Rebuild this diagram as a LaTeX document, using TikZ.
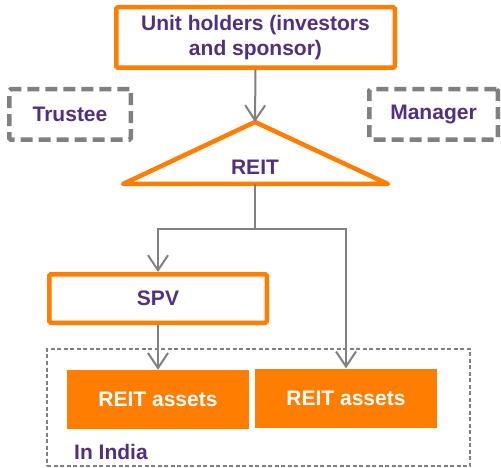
\documentclass[tikz,border=0pt]{standalone}
\usepackage{fontspec}
\setmainfont{Liberation Sans}
\usetikzlibrary{arrows.meta}
\definecolor{reitorange}{RGB}{255,125,0}
\definecolor{reitpurple}{RGB}{84,46,130}
\definecolor{reitgray}{RGB}{128,128,128}

\begin{document}
\begin{tikzpicture}[x=1pt, y=-1pt, font=\fontsize{21}{25.2}\selectfont\bfseries, >={Straight Barb[length=15pt, width=20pt]}]
  \tikzset{party/.style={draw=reitorange, line width=4.5pt, rounded corners=1.5pt, align=center, text=reitpurple, fill=white},
    role/.style={draw=reitgray, line width=4.5pt, dash pattern=on 12pt off 6pt, rounded corners=1.5pt, text=reitpurple, minimum height=50.5pt},
    asset/.style={fill=reitorange, text=white, minimum width=182pt, minimum height=59pt, inner sep=0pt},
    conn/.style={draw=reitgray, line width=2pt}}
  \useasboundingbox (0,0) rectangle (501,468);
  % in India region
  \node[draw=reitgray, line width=1.5pt, dash pattern=on 4pt off 2.5pt, minimum width=423pt, minimum height=117pt] (india) at (258.5,407.5) {};
  \node[anchor=west, inner sep=0pt, text=reitpurple] (indialabel) at (74,451.5) {In India};
  % top level
  \node[party, minimum width=278.5pt, minimum height=60.5pt, inner sep=0pt] (holders) at (255.5,37.5) {Unit holders (investors\\and sponsor)};
  \node[role, minimum width=121.5pt] (trustee) at (70,114.5) {Trustee};
  \node[role, minimum width=128.5pt] (manager) at (433.5,114.5) {Manager};
  % REIT triangle
  \coordinate (apex) at (255,122);
  \coordinate (reitbase) at (255,184);
  \draw[draw=reitorange, line width=4.5pt, line join=round, fill=white] (123,184) -- (apex) -- (388,184) -- cycle;
  \node[text=reitpurple, inner sep=0pt] (reit) at (255,167) {REIT};
  \node[party, minimum width=217.5pt, minimum height=48.5pt, inner sep=0pt] (spv) at (158,298.5) {SPV};
  \node[asset] (asset1) at (158,399.5) {REIT assets};
  \node[asset] (asset2) at (346,398) {REIT assets};
  \coordinate (split) at (255,229);
  \draw[conn, ->] (holders.south) -- (apex);
  \draw[conn] (reitbase) -- (split);
  \draw[conn, ->] (split) -| (spv.north);
  \draw[conn, ->] (split) -| (asset2.north);
  \draw[conn, ->] (spv.south) -- (asset1.north);
\end{tikzpicture}
\end{document}
